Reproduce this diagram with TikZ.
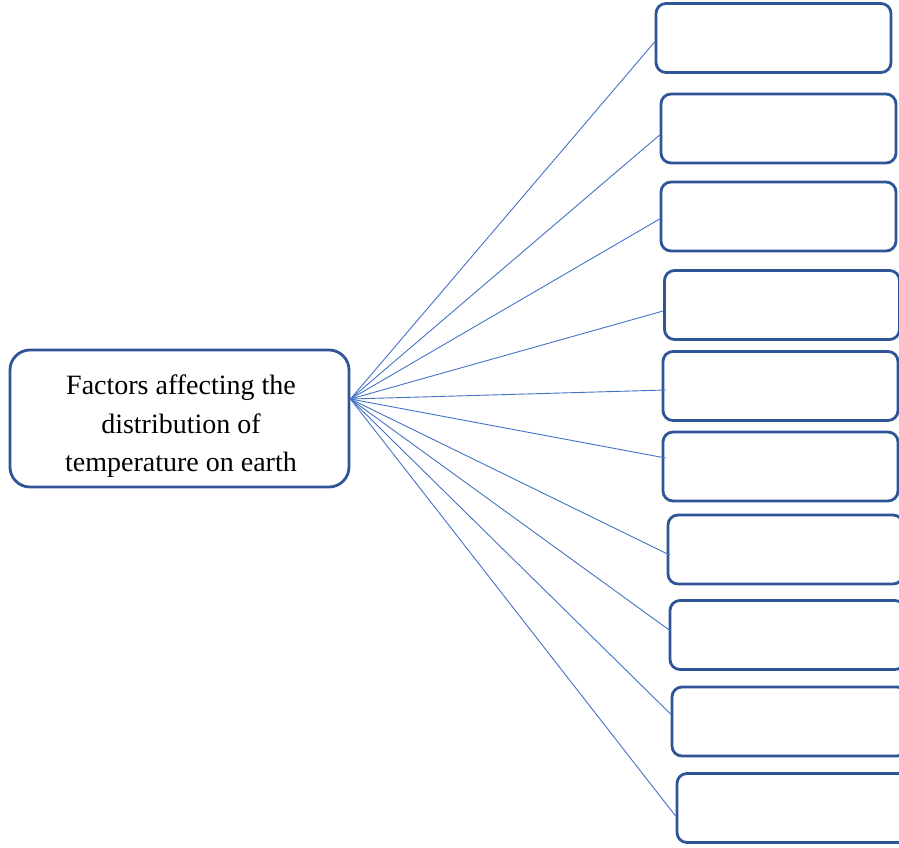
\documentclass[tikz,border=0pt]{standalone}
\usepackage{fontspec}
\setmainfont{Liberation Serif}
\definecolor{boxblue}{HTML}{2F5597}
\definecolor{lineblue}{HTML}{4472C4}
\tikzset{
  factorbox/.style={draw=boxblue, line width=2.8pt, rounded corners=10pt, minimum width=235pt, minimum height=69pt, inner sep=0pt, fill=white},
  hubbox/.style={draw=boxblue, line width=2.8pt, rounded corners=20pt, minimum width=339pt, minimum height=137pt, inner sep=0pt},
  hubtextstyle/.style={inner sep=0pt, align=center, font=\fontsize{28}{38.5}\selectfont},
  link/.style={draw=lineblue, line width=0.9pt}
}
\begin{document}
\begin{tikzpicture}[x=1pt,y=-1pt]
\useasboundingbox (0,0) rectangle (899,847);
\clip (0,0) rectangle (899,847);
\node[hubbox] (hub) at (179.5,418.5) {};
\node[hubtextstyle] (hubtext) at ([xshift=1.5pt,yshift=-8pt]hub.center) {Factors affecting the\\distribution of\\temperature on earth};
\coordinate (hp) at ([yshift=19.5pt]hub.east);
\node[factorbox] (b1) at (773.5,38) {};
\node[factorbox] (b2) at (778.5,128.5) {};
\node[factorbox] (b3) at (778.5,216.5) {};
\node[factorbox] (b4) at (782,305) {};
\node[factorbox] (b5) at (780.5,386) {};
\node[factorbox] (b6) at (780.5,466.5) {};
\node[factorbox] (b7) at (785.5,549.5) {};
\node[factorbox] (b8) at (787.5,635) {};
\node[factorbox] (b9) at (789.5,721.5) {};
\node[factorbox] (b10) at (794.5,808) {};
\draw[link] (hp) -- ([yshift=-4pt]b1.west);
\draw[link] (hp) -- ([yshift=-6.5pt]b2.west);
\draw[link] (hp) -- ([yshift=-2.5pt]b3.west);
\draw[link] (hp) -- ([yshift=-6pt]b4.west);
\draw[link] (hp) -- ([xshift=4pt,yshift=-4pt]b5.west);
\draw[link] (hp) -- ([xshift=4pt,yshift=8.5pt]b6.west);
\draw[link] (hp) -- ([xshift=3pt,yshift=-5.5pt]b7.west);
\draw[link] (hp) -- ([xshift=2pt,yshift=4pt]b8.west);
\draw[link] (hp) -- ([yshift=7.5pt]b9.west);
\draw[link] (hp) -- ([yshift=-8pt]b10.west);
\end{tikzpicture}
\end{document}
